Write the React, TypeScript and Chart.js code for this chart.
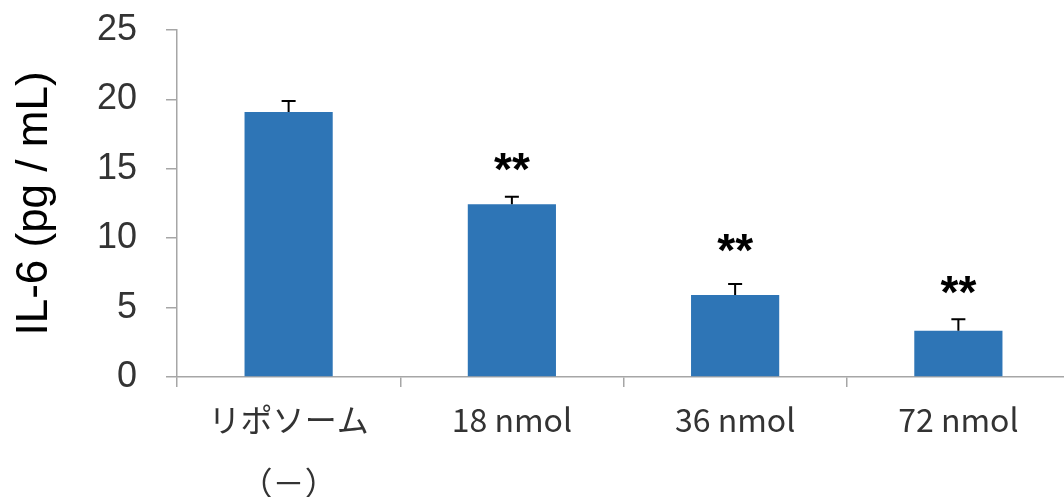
import React, { useEffect, useRef } from "react";
import { Chart, registerables } from "chart.js";

Chart.register(...registerables);

const categories: (string | string[])[] = [["リポソーム", "（－）"], "18 nmol", "36 nmol", "72 nmol"];
const means = [19.09, 12.44, 5.9, 3.34];
const errors = [0.8, 0.55, 0.8, 0.82];
const sigMarks = ["", "**", "**", "**"];
const sigLevels = [0, 15.5, 9.65, 6.6];
const yTicks = [0, 5, 10, 15, 20, 25];

const BAR_COLOR = "#2E75B6";
const AXIS_COLOR = "#A6A6A6";

const errorBarPlugin = {
  id: "errorBars",
  afterDatasetsDraw(chart: any) {
    const ctx = chart.ctx;
    const meta = chart.getDatasetMeta(0);
    const y = chart.scales.y;
    ctx.save();
    ctx.strokeStyle = "#000000";
    ctx.lineWidth = 2;
    meta.data.forEach((bar: any, i: number) => {
      const top = y.getPixelForValue(means[i] + errors[i]);
      ctx.beginPath();
      ctx.moveTo(bar.x, bar.y);
      ctx.lineTo(bar.x, top);
      ctx.moveTo(bar.x - 7, top);
      ctx.lineTo(bar.x + 7, top);
      ctx.stroke();
      if (sigMarks[i]) {
        ctx.font = "bold 46px 'Liberation Sans', Arial, sans-serif";
        ctx.fillStyle = "#000000";
        ctx.textAlign = "center";
        ctx.textBaseline = "alphabetic";
        const m = ctx.measureText(sigMarks[i]);
        const cy = y.getPixelForValue(sigLevels[i]);
        const base = cy + (m.actualBoundingBoxAscent - m.actualBoundingBoxDescent) / 2;
        ctx.fillText(sigMarks[i], bar.x, base);
      }
    });
    ctx.restore();
  },
};

export default function App() {
  const ref = useRef<HTMLCanvasElement | null>(null);
  useEffect(() => {
    if (!ref.current) return;
    const chart = new Chart(ref.current, {
      type: "bar",
      data: {
        labels: categories,
        datasets: [
          {
            data: means,
            backgroundColor: BAR_COLOR,
            borderWidth: 0,
            categoryPercentage: 1,
            barPercentage: 0.395,
          },
        ],
      },
      options: {
        responsive: false,
        animation: false,
        devicePixelRatio: 1,
        layout: { padding: { top: 30, right: 5, left: 0, bottom: 0 } },
        plugins: { legend: { display: false }, tooltip: { enabled: false } },
        scales: {
          x: {
            offset: true,
            afterFit(scale: any) {
              scale.height = 120;
            },
            grid: {
              offset: true,
              drawOnChartArea: false,
              drawTicks: true,
              tickLength: 10,
              color: AXIS_COLOR,
              lineWidth: 1.5,
            },
            border: { color: AXIS_COLOR, width: 1.5 },
            ticks: {
              autoSkip: false,
              maxRotation: 0,
              minRotation: 0,
              padding: 2,
              color: "#333333",
              font: { family: "'Noto Sans CJK JP', 'Noto Sans', sans-serif", size: 32, lineHeight: 1.95 },
            },
          },
          y: {
            min: 0,
            max: 25,
            afterFit(scale: any) {
              scale.width = 177;
              scale.paddingTop = 0;
              scale.paddingBottom = 0;
            },
            afterBuildTicks(scale: any) {
              scale.ticks = yTicks.map((v) => ({ value: v }));
            },
            grid: {
              drawOnChartArea: false,
              drawTicks: true,
              tickLength: 11,
              color: AXIS_COLOR,
              lineWidth: 1.5,
            },
            border: { color: AXIS_COLOR, width: 1.5 },
            ticks: {
              padding: 29,
              color: "#333333",
              font: { family: "'Liberation Sans', Arial, sans-serif", size: 36 },
            },
            title: {
              display: true,
              text: "IL-6 (pg / mL)",
              color: "#000000",
              padding: { top: 8, bottom: 0 },
              font: { family: "'Liberation Sans', Arial, sans-serif", size: 44 },
            },
          },
        },
      },
      plugins: [errorBarPlugin],
    });
    return () => chart.destroy();
  }, []);
  return (
    <div
      style={{
        position: "fixed",
        left: 0,
        top: 0,
        width: 1064,
        height: 497,
        overflow: "hidden",
        background: "#ffffff",
      }}
    >
      <canvas ref={ref} width={1075} height={497} style={{ display: "block" }} />
    </div>
  );
}
